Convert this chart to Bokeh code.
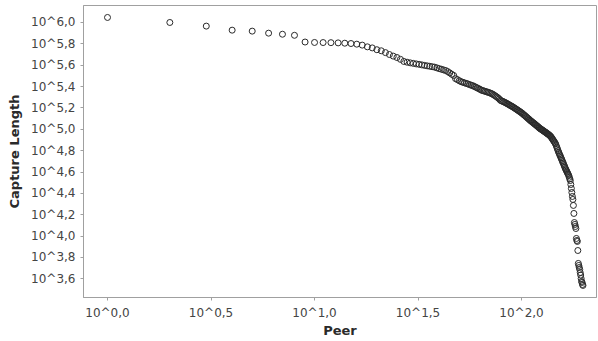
from bokeh.plotting import figure
from bokeh.models import FixedTicker, CustomJSTickFormatter, Range1d, ColumnDataSource
from bokeh.embed import file_html
from bokeh.resources import INLINE

# Peer rank (1..198) and capture length (read as exponent of 10 from the log-log chart)
peer = list(range(1, 199))
capture_length_exp = [
    6.047, 6.000, 5.966, 5.928, 5.919, 5.900, 5.890, 5.880, 5.817, 5.813,
    5.812, 5.811, 5.809, 5.806, 5.803, 5.797, 5.788, 5.772, 5.762, 5.745,
    5.735, 5.718, 5.700, 5.685, 5.672, 5.655, 5.635, 5.628, 5.622, 5.617,
    5.612, 5.608, 5.603, 5.598, 5.594, 5.590, 5.586, 5.582, 5.575, 5.568,
    5.562, 5.556, 5.550, 5.540, 5.528, 5.515, 5.504, 5.474, 5.465, 5.455,
    5.446, 5.440, 5.435, 5.430, 5.425, 5.419, 5.413, 5.409, 5.402, 5.395,
    5.388, 5.381, 5.374, 5.366, 5.362, 5.358, 5.354, 5.350, 5.346, 5.342,
    5.337, 5.332, 5.325, 5.318, 5.310, 5.302, 5.294, 5.284, 5.272, 5.266,
    5.262, 5.257, 5.252, 5.247, 5.241, 5.236, 5.230, 5.224, 5.219, 5.214,
    5.208, 5.202, 5.196, 5.190, 5.184, 5.178, 5.172, 5.166, 5.160, 5.154,
    5.147, 5.140, 5.133, 5.126, 5.119, 5.112, 5.105, 5.098, 5.091, 5.084,
    5.078, 5.072, 5.066, 5.060, 5.054, 5.048, 5.042, 5.036, 5.030, 5.024,
    5.018, 5.012, 5.006, 5.002, 4.997, 4.993, 4.988, 4.983, 4.979, 4.974,
    4.970, 4.965, 4.960, 4.956, 4.951, 4.946, 4.940, 4.935, 4.927, 4.918,
    4.909, 4.900, 4.891, 4.882, 4.873, 4.864, 4.848, 4.832, 4.817, 4.801,
    4.786, 4.773, 4.760, 4.747, 4.734, 4.721, 4.708, 4.695, 4.682, 4.669,
    4.656, 4.643, 4.630, 4.620, 4.609, 4.599, 4.588, 4.578, 4.567, 4.551,
    4.536, 4.520, 4.483, 4.446, 4.408, 4.371, 4.343, 4.287, 4.212, 4.127,
    4.109, 4.090, 4.071, 3.978, 3.959, 3.950, 3.865, 3.744, 3.725, 3.706,
    3.687, 3.659, 3.635, 3.603, 3.575, 3.566, 3.547, 3.538,
]
x_tick_exp = [0.0, 0.5, 1.0, 1.5, 2.0]
y_tick_exp = [3.6, 3.8, 4.0, 4.2, 4.4, 4.6, 4.8, 5.0, 5.2, 5.4, 5.6, 5.8, 6.0]

capture_length = [10 ** e for e in capture_length_exp]
src = ColumnDataSource(dict(peer=peer, capture_length=capture_length))

p = figure(width=598, height=341, x_axis_type="log", y_axis_type="log",
           x_range=Range1d(10 ** -0.116, 10 ** 2.362),
           y_range=Range1d(10 ** 3.425, 10 ** 6.159),
           output_backend="svg", toolbar_location=None,
           min_border_left=83, min_border_right=2, min_border_top=5,
           min_border_bottom=44)

p.scatter(x="peer", y="capture_length", source=src, marker="circle", size=6,
          fill_color=None, line_color="#2a2a2a", line_width=1)

fmt = CustomJSTickFormatter(code="""
const e = Math.log10(tick);
return "10^" + e.toFixed(1).replace(".", ",");
""")
p.xaxis.ticker = FixedTicker(ticks=[10 ** e for e in x_tick_exp])
p.yaxis.ticker = FixedTicker(ticks=[10 ** e for e in y_tick_exp])
p.xaxis.formatter = fmt
p.yaxis.formatter = fmt

p.xaxis.axis_label = "Peer"
p.yaxis.axis_label = "Capture Length"
for ax in (p.xaxis, p.yaxis):
    ax.axis_label_text_font = "DejaVu Sans"
    ax.axis_label_text_font_style = "bold"
    ax.axis_label_text_font_size = "13px"
    ax.axis_label_text_color = "#2a2a2a"
    ax.major_label_text_font = "DejaVu Sans"
    ax.major_label_text_font_size = "12px"
    ax.major_label_text_color = "#444444"
    ax.axis_line_color = "#a0a0a0"
    ax.major_tick_line_color = "#a0a0a0"
    ax.major_tick_out = 3
    ax.major_tick_in = 0
    ax.minor_tick_line_color = None
p.xaxis.major_label_standoff = 5
p.yaxis.major_label_standoff = 5
p.xaxis.axis_label_standoff = 0
p.yaxis.axis_label_standoff = 6

p.grid.visible = False
p.outline_line_color = "#a0a0a0"
p.background_fill_color = "white"
p.border_fill_color = "white"

open("out.html", "w").write(file_html(p, INLINE))
